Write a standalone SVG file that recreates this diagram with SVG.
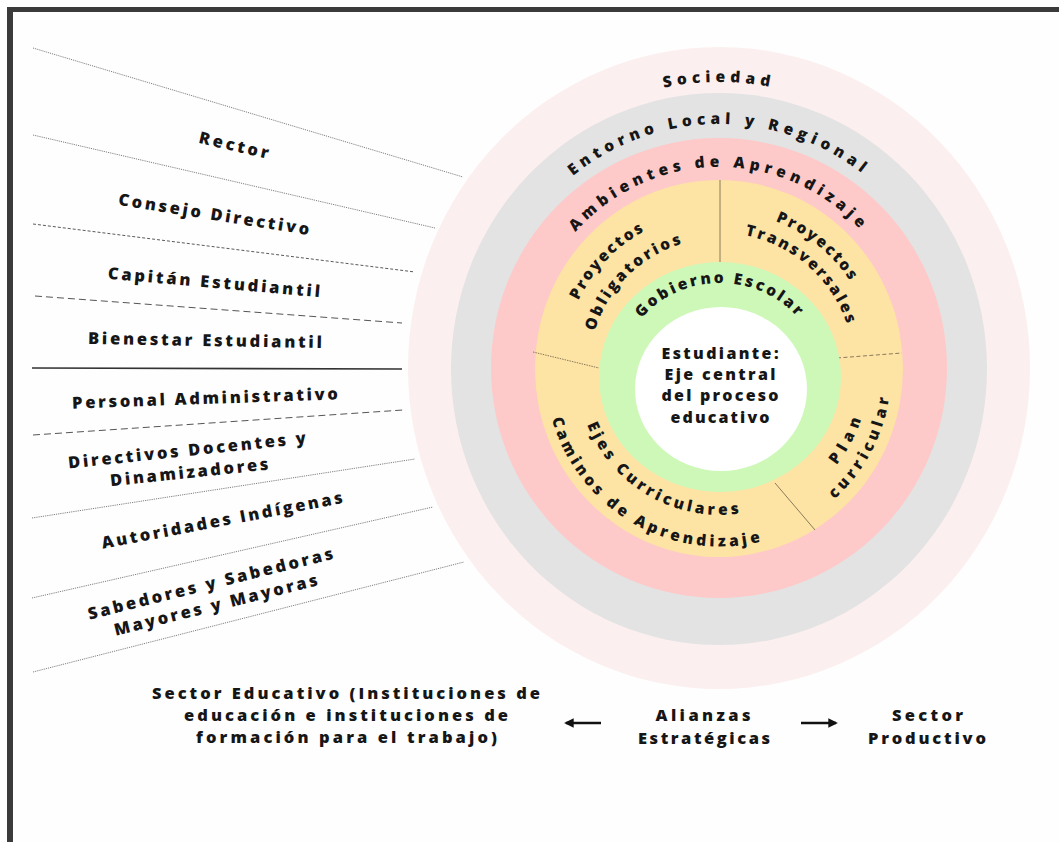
<svg xmlns="http://www.w3.org/2000/svg" width="1059" height="842" viewBox="0 0 1059 842">
<style>
  text { font-family: "Open Sans", "DejaVu Sans", sans-serif; font-weight: 800; fill: #161616; }
  .lbl { font-size: 16.5px; }
  .ctr { font-size: 16px; }
  .arc { font-size: 15.5px; }
  .sep { fill: none; stroke: #808080; stroke-width: 1; }
  .dot { stroke-dasharray: 1.2 1; }
  .fine { stroke-dasharray: 3 2; stroke: #5a5a5a; }
  .dash { stroke-dasharray: 7 4; stroke: #555; }
  .solid { stroke: #333; stroke-width: 1.6; }
  .div { stroke: #8a7a5a; stroke-width: 1; fill: none; }
  .arrow { stroke: #111; stroke-width: 2.4; fill: none; }
</style>
<defs>
  <marker id="ah" viewBox="0 0 10 10" refX="8" refY="5" markerWidth="4" markerHeight="4" orient="auto-start-reverse">
    <path d="M0,0 L10,5 L0,10 z" fill="#111"/>
  </marker>
  <path id="pSoc" d="M 441 368 A 278 286 0 0 1 997 368"/>
  <path id="pEnt" d="M 482 368 A 237 244 0 0 1 956 368"/>
  <path id="pAmb" d="M 524 368 A 195 201 0 0 1 914 368"/>
  <path id="pGob" d="M 619 378 A 101 95 0 0 1 821 378"/>
  <path id="pProyL" d="M 593.1 460.1 A 156 156 0 0 1 805.8 238.4"/>
  <path id="pObl" d="M 612.2 441.8 A 130 130 0 0 1 794.3 262.0"/>
  <path id="pProyR" d="M 615.7 249.1 A 157.5 157.5 0 0 1 856.7 444.4"/>
  <path id="pTra" d="M 634.7 262.0 A 135.5 135.5 0 0 1 834.5 438.8"/>
  <path id="pEjes" d="M 585.3 324.0 A 143 143 0 0 0 830.2 463.1"/>
  <path id="pCam" d="M 555.9 312.6 A 174.5 174.5 0 0 0 853.9 483.9"/>
  <path id="pPlan" d="M 675.2 514.1 A 149 149 0 0 0 810.7 253.8"/>
  <path id="pCur" d="M 668.0 534.9 A 171 171 0 0 0 824.6 236.7"/>
</defs>

<!-- frame -->
<rect x="0" y="0" width="1059" height="842" fill="#ffffff"/>
<rect x="7" y="7" width="1060" height="850" fill="#3b3b3b"/>
<rect x="13" y="12" width="1060" height="850" fill="#fefefe"/>

<!-- rings -->
<g id="ring-sociedad">
  <ellipse cx="719" cy="368" rx="311" ry="321" fill="#fcefef"/>
  <text class="arc" letter-spacing="5"><textPath href="#pSoc" startOffset="50%" text-anchor="middle">Sociedad</textPath></text>
</g>
<g id="ring-entorno">
  <ellipse cx="719" cy="369" rx="268" ry="276" fill="#e3e3e3"/>
  <text class="arc" letter-spacing="5"><textPath href="#pEnt" startOffset="50%" text-anchor="middle">Entorno Local y Regional</textPath></text>
</g>
<g id="ring-ambientes">
  <ellipse cx="719" cy="368" rx="228" ry="230" fill="#fec9c9"/>
  <text class="arc" letter-spacing="4.8"><textPath href="#pAmb" startOffset="50%" text-anchor="middle">Ambientes de Aprendizaje</textPath></text>
</g>
<g id="ring-proyectos">
  <ellipse cx="719" cy="368.5" rx="184" ry="188.5" fill="#fde3a4"/>
  <g id="sector-dividers">
    <line class="div" x1="720" y1="180" x2="720" y2="262"/>
    <line class="div" x1="533" y1="352" x2="599" y2="368" stroke-dasharray="1.5 1"/>
    <line class="div" x1="837" y1="358" x2="902" y2="353" stroke-dasharray="4 2.5"/>
    <line class="div" x1="775" y1="483" x2="815" y2="530"/>
  </g>
  <text class="arc" letter-spacing="2.2"><textPath href="#pProyL" startOffset="50%" text-anchor="middle">Proyectos</textPath></text>
  <text class="arc" letter-spacing="2.7"><textPath href="#pObl" startOffset="50%" text-anchor="middle">Obligatorios</textPath></text>
  <text class="arc" letter-spacing="2.2"><textPath href="#pProyR" startOffset="50%" text-anchor="middle">Proyectos</textPath></text>
  <text class="arc" letter-spacing="2.5"><textPath href="#pTra" startOffset="50%" text-anchor="middle">Transversales</textPath></text>
  <text class="arc" letter-spacing="3.5"><textPath href="#pEjes" startOffset="50%" text-anchor="middle">Ejes Curriculares</textPath></text>
  <text class="arc" letter-spacing="3.6"><textPath href="#pCam" startOffset="50%" text-anchor="middle">Caminos de Aprendizaje</textPath></text>
  <text class="arc" letter-spacing="5.8"><textPath href="#pPlan" startOffset="50%" text-anchor="middle">Plan</textPath></text>
  <text class="arc" letter-spacing="4.2"><textPath href="#pCur" startOffset="50%" text-anchor="middle">curricular</textPath></text>
</g>
<g id="ring-gobierno">
  <ellipse cx="720" cy="377" rx="121" ry="115" fill="#cdf8b8"/>
  <text class="arc" letter-spacing="2.7"><textPath href="#pGob" startOffset="50%" text-anchor="middle">Gobierno Escolar</textPath></text>
</g>
<g id="estudiante">
  <ellipse cx="721" cy="389" rx="86" ry="82" fill="#ffffff"/>
  <text class="ctr" x="720" y="358.5" text-anchor="middle" textLength="117" lengthAdjust="spacing">Estudiante:</text>
  <text class="ctr" x="720" y="379.5" text-anchor="middle" textLength="111" lengthAdjust="spacing">Eje central</text>
  <text class="ctr" x="720" y="400.5" text-anchor="middle" textLength="117" lengthAdjust="spacing">del proceso</text>
  <text class="ctr" x="720" y="422.5" text-anchor="middle" textLength="99" lengthAdjust="spacing">educativo</text>
</g>

<!-- left separators -->
<g id="separators">
  <line class="sep dot" x1="33" y1="48" x2="463" y2="177"/>
  <line class="sep dot" x1="33" y1="135" x2="435" y2="228"/>
  <line class="sep fine" x1="33" y1="224" x2="415" y2="272"/>
  <line class="sep dash" x1="35" y1="296" x2="402" y2="323"/>
  <line class="sep solid" x1="32" y1="368" x2="402" y2="369"/>
  <line class="sep dash" x1="33" y1="435" x2="403" y2="410"/>
  <line class="sep dot" x1="32" y1="518" x2="415" y2="459"/>
  <line class="sep dot" x1="32" y1="598" x2="433" y2="507"/>
  <line class="sep dot" x1="33" y1="672" x2="464" y2="562"/>
</g>

<!-- left labels -->
<g id="lbl-rector" transform="translate(234,145) rotate(13)">
  <text class="lbl" x="0" y="6" text-anchor="middle" textLength="71" lengthAdjust="spacing">Rector</text>
</g>
<g id="lbl-consejo" transform="translate(214,214) rotate(9)">
  <text class="lbl" x="0" y="6" text-anchor="middle" textLength="193" lengthAdjust="spacing">Consejo Directivo</text>
</g>
<g id="lbl-capitan" transform="translate(214,282) rotate(5)">
  <text class="lbl" x="0" y="6" text-anchor="middle" textLength="213" lengthAdjust="spacing">Capitán Estudiantil</text>
</g>
<g id="lbl-bienestar" transform="translate(205,340) rotate(1)">
  <text class="lbl" x="0" y="6" text-anchor="middle" textLength="234" lengthAdjust="spacing">Bienestar Estudiantil</text>
</g>
<g id="lbl-personal" transform="translate(205,398) rotate(-2)">
  <text class="lbl" x="0" y="6" text-anchor="middle" textLength="266" lengthAdjust="spacing">Personal Administrativo</text>
</g>
<g id="lbl-directivos" transform="translate(188,461) rotate(-6)">
  <text class="lbl" x="0" y="-5" text-anchor="middle" textLength="239" lengthAdjust="spacing">Directivos Docentes y</text>
  <text class="lbl" x="0" y="17" text-anchor="middle" textLength="159" lengthAdjust="spacing">Dinamizadores</text>
</g>
<g id="lbl-autoridades" transform="translate(222,520) rotate(-10.8)">
  <text class="lbl" x="0" y="6" text-anchor="middle" textLength="245" lengthAdjust="spacing">Autoridades Indígenas</text>
</g>
<g id="lbl-sabedores" transform="translate(213,594) rotate(-14)">
  <text class="lbl" x="0" y="-5" text-anchor="middle" textLength="252" lengthAdjust="spacing">Sabedores y Sabedoras</text>
  <text class="lbl" x="0" y="17" text-anchor="middle" textLength="209" lengthAdjust="spacing">Mayores y Mayoras</text>
</g>

<!-- bottom -->
<g id="sector-educativo">
  <text class="lbl" x="346" y="698.5" text-anchor="middle" textLength="388" lengthAdjust="spacing">Sector Educativo (Instituciones de</text>
  <text class="lbl" x="346" y="720.5" text-anchor="middle" textLength="324" lengthAdjust="spacing">educación e instituciones de</text>
  <text class="lbl" x="346.5" y="742.5" text-anchor="middle" textLength="301" lengthAdjust="spacing">formación para el trabajo)</text>
</g>
<g id="alianzas">
  <text class="lbl" x="703" y="720.5" text-anchor="middle" textLength="95" lengthAdjust="spacing">Alianzas</text>
  <text class="lbl" x="704" y="743.5" text-anchor="middle" textLength="132" lengthAdjust="spacing">Estratégicas</text>
</g>
<g id="sector-productivo">
  <text class="lbl" x="927.5" y="720.5" text-anchor="middle" textLength="71" lengthAdjust="spacing">Sector</text>
  <text class="lbl" x="927" y="743.5" text-anchor="middle" textLength="118" lengthAdjust="spacing">Productivo</text>
</g>
<g id="connectors">
  <line class="arrow" x1="601" y1="723" x2="566" y2="723" marker-end="url(#ah)"/>
  <line class="arrow" x1="801" y1="723" x2="836" y2="723" marker-end="url(#ah)"/>
</g>
</svg>
